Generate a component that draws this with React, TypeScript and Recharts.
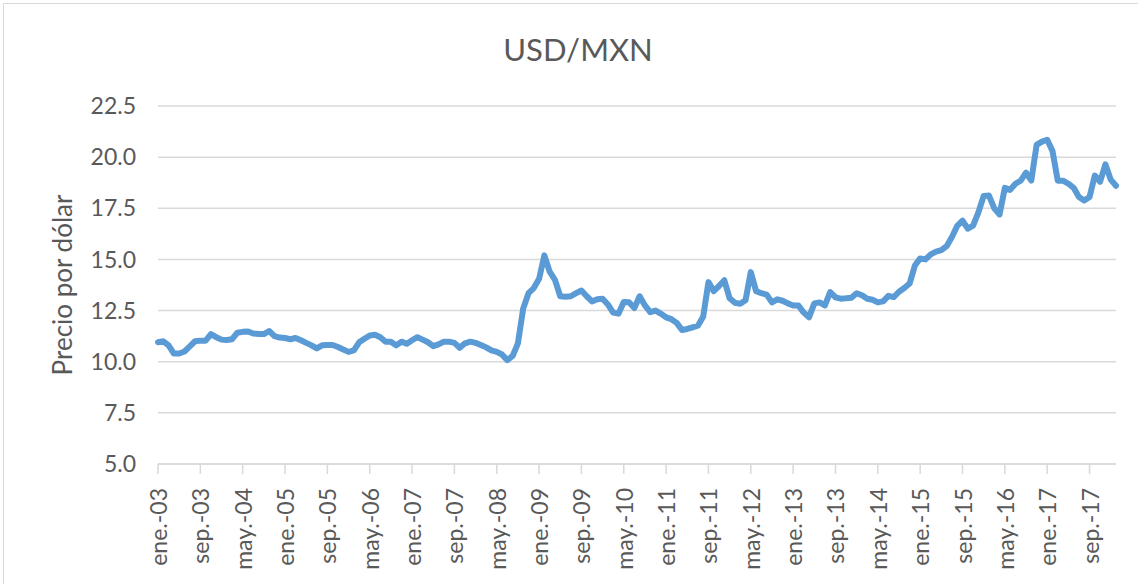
import React from "react";
import { CartesianGrid, Label, Line, LineChart, XAxis, YAxis } from "recharts";

// Spanish month abbreviations used for the category labels
const monthNames = ["ene.", "feb.", "mar.", "abr.", "may.", "jun.", "jul.", "ago.", "sep.", "oct.", "nov.", "dic."];
const firstYear = 2003;
const monthCount = 182; // ene.-03 ... feb.-18

const months: string[] = Array.from({ length: monthCount }, (_, i) => {
  const yy = String((firstYear + Math.floor(i / 12)) % 100).padStart(2, "0");
  return `${monthNames[i % 12]}-${yy}`;
});

// USD/MXN, pesos per dollar
const usdMxn = [
  10.95, 11.0, 10.8, 10.4, 10.4, 10.5, 10.75, 11.0, 11.03, 11.03, 11.35, 11.2,
  11.08, 11.06, 11.1, 11.42, 11.46, 11.48, 11.38, 11.35, 11.35, 11.5, 11.25, 11.18,
  11.16, 11.1, 11.16, 11.05, 10.92, 10.8, 10.65, 10.8, 10.82, 10.82, 10.72, 10.6,
  10.48, 10.55, 10.95, 11.12, 11.28, 11.32, 11.2, 10.98, 10.98, 10.8, 10.98, 10.88,
  11.05, 11.2, 11.08, 10.95, 10.76, 10.85, 10.98, 10.98, 10.92, 10.68, 10.9, 10.98,
  10.92, 10.82, 10.7, 10.55, 10.48, 10.35, 10.08, 10.28, 10.9, 12.6, 13.35, 13.6,
  14.05, 15.2, 14.4, 14.0, 13.2, 13.18, 13.2, 13.35, 13.48, 13.2, 12.95, 13.05,
  13.08, 12.8, 12.4, 12.35, 12.92, 12.91, 12.62, 13.2, 12.75, 12.42, 12.5, 12.35,
  12.17, 12.08, 11.9, 11.55, 11.6, 11.68, 11.76, 12.2, 13.89, 13.45, 13.7, 13.98,
  13.1, 12.88, 12.83, 13.0, 14.38, 13.45, 13.35, 13.28, 12.9, 13.05, 12.98, 12.85,
  12.75, 12.75, 12.4, 12.17, 12.85, 12.9, 12.75, 13.4, 13.15, 13.08, 13.1, 13.13,
  13.35, 13.25, 13.08, 13.03, 12.9, 12.95, 13.22, 13.16, 13.42, 13.6, 13.82, 14.7,
  15.05, 15.0, 15.25, 15.38, 15.45, 15.65, 16.1, 16.64, 16.9, 16.5, 16.65, 17.3,
  18.1, 18.12, 17.5, 17.2, 18.5, 18.4, 18.7, 18.85, 19.24, 18.86, 20.6, 20.76,
  20.85, 20.3, 18.85, 18.85, 18.7, 18.5, 18.05, 17.88, 18.05, 19.1, 18.8, 19.65,
  18.9, 18.6,
];

const yTicks = [5, 7.5, 10, 12.5, 15, 17.5, 20, 22.5];

const data = months.map((month, i) => ({ month, usd: usdMxn[i] }));

const font = "Lato, 'Open Sans', sans-serif";
const textColor = "#595959";

const MonthTick = (props: any) => {
  const { x, y, payload } = props;
  return (
    <text
      x={x}
      y={y}
      transform={`rotate(-90, ${x}, ${y})`}
      textAnchor="end"
      dominantBaseline="central"
      fill={textColor}
      fontSize={23}
      fontFamily={font}
    >
      {payload.value}
    </text>
  );
};

export default function App() {
  return (
    <div style={{ position: "absolute", left: 0, top: 0, width: 1138, height: 584, background: "#fff", overflow: "hidden" }}>
      <div
        style={{
          position: "absolute",
          left: 3,
          top: 3,
          width: 1200,
          height: 700,
          border: "1px solid #d9d9d9",
        }}
      />
      <div
        style={{
          position: "absolute",
          left: 0,
          width: 1156,
          top: 27,
          textAlign: "center",
          fontFamily: font,
          fontSize: 31,
          color: textColor,
          lineHeight: "44px",
        }}
      >
        USD/MXN
      </div>
      <div style={{ position: "absolute", left: 0, top: 0 }}>
        <LineChart width={1138} height={584} data={data} margin={{ top: 106, right: 22, bottom: 20, left: 0 }}>
          <CartesianGrid vertical={false} stroke="#d9d9d9" strokeWidth={1.5} />
          <XAxis
            dataKey="month"
            interval={7}
            height={100}
            tick={<MonthTick />}
            tickSize={10}
            tickMargin={14}
            axisLine={{ stroke: "#d9d9d9", strokeWidth: 1.5 }}
            tickLine={{ stroke: "#d9d9d9", strokeWidth: 1.5 }}
          />
          <YAxis
            type="number"
            domain={[5, 22.5]}
            ticks={yTicks}
            width={158}
            axisLine={false}
            tickLine={false}
            tickSize={0}
            tickMargin={22}
            tickFormatter={(v: number) => v.toFixed(1)}
            tick={{ fill: textColor, fontSize: 23, fontFamily: font }}
          >
            <Label
              content={() => (
                <text
                  x={62}
                  y={285}
                  transform="rotate(-90, 62, 285)"
                  textAnchor="middle"
                  dominantBaseline="central"
                  fill={textColor}
                  fontSize={26}
                  fontFamily={font}
                >
                  Precio por dólar
                </text>
              )}
            />
          </YAxis>
          <Line
            type="linear"
            dataKey="usd"
            stroke="#5b9bd5"
            strokeWidth={6}
            dot={false}
            strokeLinejoin="round"
            strokeLinecap="round"
            isAnimationActive={false}
          />
        </LineChart>
      </div>
    </div>
  );
}
